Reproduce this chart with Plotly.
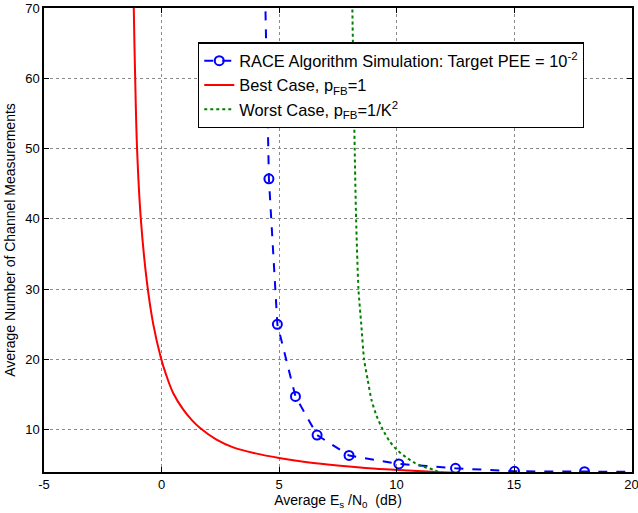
import plotly.graph_objects as go

# RACE algorithm simulation (blue dashed with circles)
race_x = [4.30, 4.57, 4.93, 5.70, 6.62, 7.98, 10.10, 12.51, 15.02, 18.0, 21.0]
race_y = [90.0, 45.7, 25.0, 14.75, 9.25, 6.35, 5.15, 4.53, 4.10, 4.05, 4.02]

# Best case, p_FB = 1 (red solid)
best_x = [-1.22, -1.18, -1.12, -1.04, -0.88, -0.62, -0.35, -0.03, 0.18, 0.5, 0.92, 1.3,
          1.63, 2.34, 3.05, 4.0, 5.0, 6.2, 7.6, 9.0, 10.5, 11.7, 12.5]
best_y = [80, 70, 60, 50, 40, 31, 25, 20.3, 18.0, 15.2, 12.9, 11.35,
          10.3, 8.6, 7.5, 6.65, 6.0, 5.4, 4.9, 4.5, 4.2, 4.0, 3.9]

# Worst case, p_FB = 1/K^2 (green dotted)
worst_x = [8.08, 8.12, 8.17, 8.22, 8.28, 8.38, 8.50, 8.62, 8.78, 8.93, 9.15, 9.42,
           9.70, 10.0, 10.4, 10.77, 11.15, 11.55, 11.8, 12.0]
worst_y = [80, 70, 60, 50, 40, 30, 25, 20, 17, 14.3, 12, 10,
           8.4, 7.2, 6.1, 5.3, 4.75, 4.35, 4.0, 3.9]

x_ticks = [-5, 0, 5, 10, 15, 20]
y_ticks = [10, 20, 30, 40, 50, 60, 70]

FONT = "Liberation Sans, Arial, Helvetica, sans-serif"

fig = go.Figure()
fig.add_trace(go.Scatter(
    x=race_x, y=race_y, mode="lines+markers",
    name="RACE Algorithm Simulation: Target PEE = 10<sup>-2</sup>",
    line=dict(color="#0000ff", width=2, dash="dash"),
    marker=dict(symbol="circle-open", size=9, color="#0000ff", line=dict(width=2, color="#0000ff")),
))
fig.add_trace(go.Scatter(
    x=best_x, y=best_y, mode="lines",
    name="Best Case, p<sub>FB</sub>=1",
    line=dict(color="#ff0000", width=2, shape="spline", smoothing=1.0),
))
fig.add_trace(go.Scatter(
    x=worst_x, y=worst_y, mode="lines",
    name="Worst Case, p<sub>FB</sub>=1/K<sup>2</sup>",
    line=dict(color="#008000", width=2, dash="dot", shape="spline", smoothing=0.6),
))

axis_common = dict(
    showline=True, linecolor="black", linewidth=1.5, mirror="allticks",
    ticks="inside", ticklen=5, tickwidth=1, tickcolor="black",
    showgrid=True, gridcolor="#8a8a8a", griddash="dot", gridwidth=1,
    zeroline=False, tickfont=dict(family=FONT, size=13, color="black"),
    ticklabeloverflow="allow",
)

fig.update_xaxes(
    range=[-5, 20.02], tickvals=x_ticks, ticktext=[str(v) for v in x_ticks],
    title=dict(text="Average E<sub>s</sub> /N<sub>0</sub>  (dB)",
               font=dict(family=FONT, size=14, color="black"), standoff=4),
    **axis_common,
)
fig.update_yaxes(
    range=[4, 70], tickvals=y_ticks, ticktext=[str(v) for v in y_ticks],
    title=dict(text="Average Number of Channel Measurements",
               font=dict(family=FONT, size=14, color="black"), standoff=6),
    **axis_common,
)

fig.update_layout(
    width=638, height=513,
    margin=dict(l=44, r=6, t=8, b=41, autoexpand=False),
    paper_bgcolor="white", plot_bgcolor="white",
    showlegend=True,
    legend=dict(
        x=0.262, y=0.926, xanchor="left", yanchor="top",
        bgcolor="white", bordercolor="black", borderwidth=1.2,
        font=dict(family=FONT, size=16.4, color="black"),
        tracegroupgap=0, itemwidth=30,
    ),
)

fig.write_html("out.html")
